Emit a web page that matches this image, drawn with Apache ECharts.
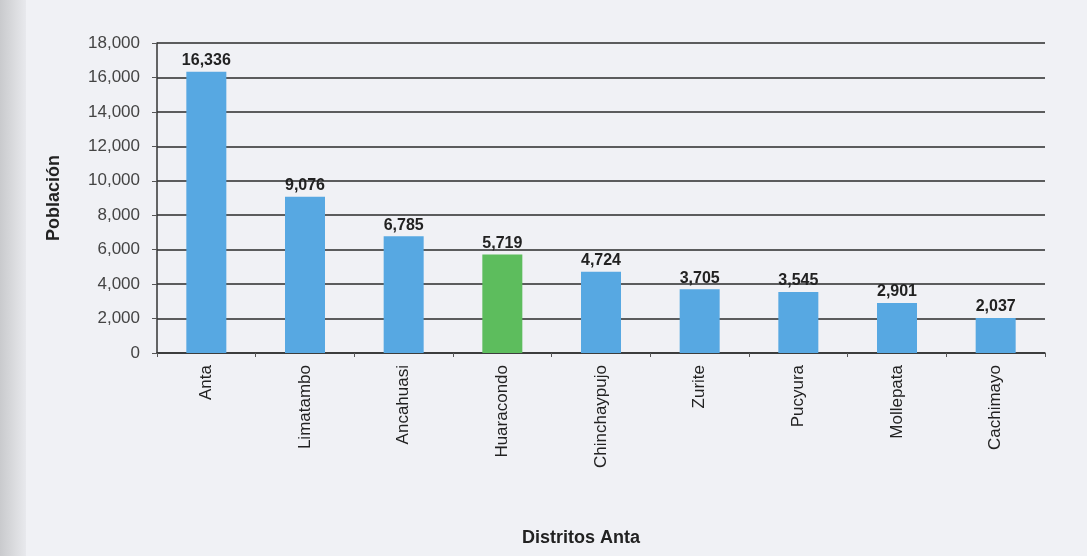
<!DOCTYPE html>
<html><head><meta charset="utf-8">
<script src="https://cdn.jsdelivr.net/npm/echarts@6/dist/echarts.min.js"></script>
<style>html,body{margin:0;padding:0;background:#f0f1f5}#c{width:1087px;height:556px}</style>
</head><body><div id="c"></div>
<script>
const categories = ['Anta','Limatambo','Ancahuasi','Huaracondo','Chinchaypujo','Zurite','Pucyura','Mollepata','Cachimayo'];
const values = [16336, 9076, 6785, 5719, 4724, 3705, 3545, 2901, 2037];
const highlight = 'Huaracondo';
const yTicks = {min: 0, max: 18000, interval: 2000};

const chart = echarts.init(document.getElementById('c'));
chart.setOption({
  backgroundColor: '#f0f1f5',
  animation: false,
  title: {
    text: 'Distritos Anta', left: 576, top: 524, textAlign: 'center',
    textStyle: {fontFamily: 'Liberation Sans', fontWeight: 'bold', fontSize: 18, color: '#222'}
  },
  graphic: [{
    type: 'rect', left: 0, top: 0, z: -10,
    shape: {width: 26, height: 556},
    style: {fill: new echarts.graphic.LinearGradient(0,0,1,0,[{offset:0,color:'#c9cacd'},{offset:0.6,color:'#dcdde0'},{offset:1,color:'#e8e9ed'}])}
  }],
  grid: {left: 157, right: 42, top: 43, bottom: 203},
  xAxis: {
    type: 'category', data: categories,
    axisLine: {lineStyle: {color: '#333', width: 1.5}},
    axisTick: {show: true, length: 4, lineStyle: {color: '#555'}},
    axisLabel: {rotate: 90, fontFamily: 'Liberation Sans', fontSize: 17, color: '#222', margin: 12}
  },
  yAxis: {
    type: 'value', min: yTicks.min, max: yTicks.max, interval: yTicks.interval,
    name: 'Población', nameLocation: 'middle', nameGap: 94, nameRotate: 90,
    nameTextStyle: {fontFamily: 'Liberation Sans', fontWeight: 'bold', fontSize: 18, color: '#222'},
    axisLine: {show: true, lineStyle: {color: '#333', width: 1.5}},
    axisTick: {show: true, length: 5, lineStyle: {color: '#555'}},
    axisLabel: {fontFamily: 'Liberation Sans', fontSize: 17, color: '#444', margin: 17,
      formatter: v => v.toLocaleString('en-US')},
    splitLine: {lineStyle: {color: '#2a2a2a', width: 1.6}}
  },
  series: [{
    type: 'bar', barWidth: 40,
    data: categories.map((c, i) => ({value: values[i], itemStyle: {color: c === highlight ? '#5dbd5d' : '#57a8e2'}})),
    label: {show: true, position: 'top', distance: 3, fontFamily: 'Liberation Sans', fontWeight: 'bold', fontSize: 16, color: '#222',
      formatter: p => p.value.toLocaleString('en-US')}
  }]
});
</script></body></html>
